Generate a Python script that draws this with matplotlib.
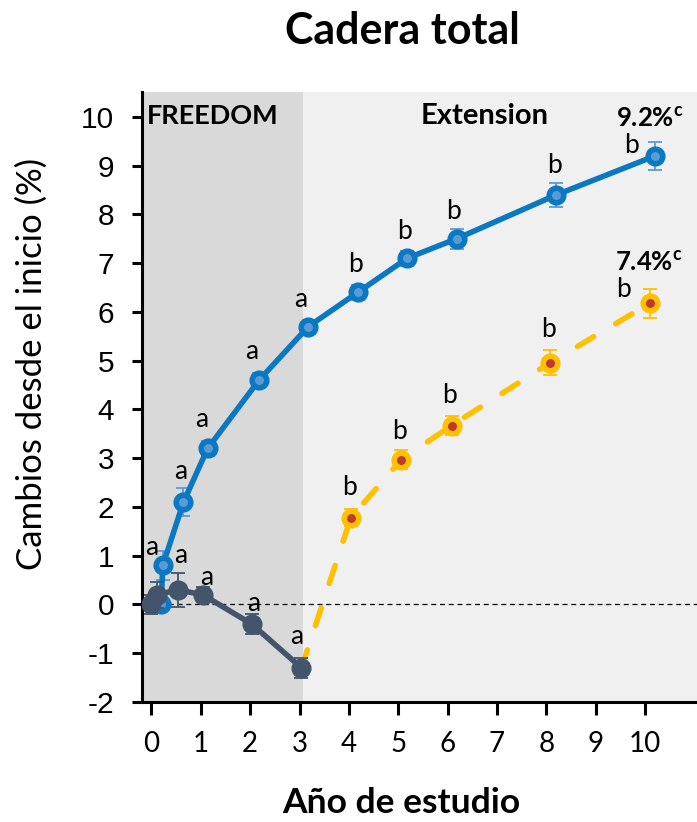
import matplotlib
matplotlib.use("Agg")
import matplotlib.pyplot as plt
from matplotlib.patches import Rectangle

plt.rcParams["axes.unicode_minus"] = False

# ---- data -------------------------------------------------------------
# FREEDOM period, placebo-to-denosumab arm (dark slate)
freedom_x = [0.0, 0.12, 0.53, 1.04, 2.03, 3.04]
freedom_y = [0.0, 0.2, 0.3, 0.2, -0.4, -1.3]
freedom_err = [0.2, 0.27, 0.35, 0.15, 0.2, 0.2]
freedom_letters = ["", "", "a", "a", "a", "a"]

# long-term denosumab arm (blue)
long_x = [0.2, 0.23, 0.65, 1.14, 2.18, 3.18, 4.18, 5.18, 6.18, 8.2, 10.2]
long_y = [0.0, 0.8, 2.1, 3.2, 4.6, 5.7, 6.4, 7.1, 7.5, 8.4, 9.2]
long_err = [0.1, 0.3, 0.28, 0.15, 0.15, 0.1, 0.15, 0.15, 0.2, 0.24, 0.29]
long_letters = ["", "a", "a", "a", "a", "a", "b", "b", "b", "b", "b"]

# crossover arm during the extension (yellow)
cross_x = [3.04, 4.04, 5.06, 6.08, 8.08, 10.1]
cross_y = [-1.3, 1.78, 2.97, 3.67, 4.96, 6.18]
cross_err = [0.0, 0.18, 0.2, 0.2, 0.25, 0.3]
cross_letters = ["", "b", "b", "b", "b", "b"]

x_ticks = list(range(0, 11))
y_ticks = list(range(-2, 11))
freedom_end = 3.07
long_total = "9.2%"
cross_total = "7.4%"

# ---- style ------------------------------------------------------------
BLUE = "#0A78C2"
BLUE_LIGHT = "#5B9BD5"
SLATE = "#44546A"
YELLOW = "#FFC000"
RED = "#C0392B"
BG_DARK = "#D9D9D9"
BG_LIGHT = "#F0F0F0"

CAL = ["Lato", "DejaVu Sans"]
ARIAL = ["Liberation Sans", "DejaVu Sans"]

fig = plt.figure(figsize=(6.97, 8.22), dpi=100)
ax = fig.add_axes([142 / 697, 1 - 702 / 822, 1 - 142 / 697, (702 - 92) / 822])

xmin, xmax = -0.19, 11.05
ymin, ymax = -2.0, 10.51
ax.set_xlim(xmin, xmax)
ax.set_ylim(ymin, ymax)
ax.set_facecolor(BG_LIGHT)
ax.add_patch(Rectangle((xmin, ymin), freedom_end - xmin, ymax - ymin,
                       facecolor=BG_DARK, edgecolor="none", zorder=0))

ax.axhline(0, color="black", lw=0.9, ls=(0, (4, 3)), zorder=1)

# crossover arm (dashed, behind the others)
ax.errorbar(cross_x[1:], cross_y[1:], yerr=cross_err[1:], fmt="none",
            ecolor=YELLOW, elinewidth=1.3, capsize=5, capthick=1.3, zorder=2)
ax.plot(cross_x, cross_y, color=YELLOW, lw=4, dashes=(3.4, 4.6),
        dash_capstyle="round", zorder=2)
ax.plot(cross_x[1:], cross_y[1:], ls="none", marker="o", ms=10.5,
        mfc=RED, mec=YELLOW, mew=4, zorder=3)

# long-term arm
ax.errorbar(long_x, long_y, yerr=long_err, fmt="none", ecolor=BLUE_LIGHT,
            elinewidth=1.3, capsize=5, capthick=1.3, zorder=4)
ax.plot(long_x, long_y, color=BLUE, lw=4, solid_capstyle="round", zorder=4)
ax.plot(long_x, long_y, ls="none", marker="o", ms=10.5, mfc=BLUE_LIGHT,
        mec=BLUE, mew=4, zorder=5)

# FREEDOM period
ax.errorbar(freedom_x, freedom_y, yerr=freedom_err, fmt="none", ecolor=SLATE,
            elinewidth=1.3, capsize=5, capthick=1.3, zorder=6)
ax.plot(freedom_x, freedom_y, color=SLATE, lw=4, marker="o", ms=13.5,
        mfc=SLATE, mec=SLATE, zorder=7)

# significance letters (offsets in pixels: dx, dy)
def letters(xs, ys, labels, offsets):
    for x, y, s, (dx, dy) in zip(xs, ys, labels, offsets):
        if s:
            ax.annotate(s, (x, y), xytext=(dx * 0.72, dy * 0.72),
                        textcoords="offset points", ha="center", va="center",
                        fontsize=19, family=CAL, zorder=9)

letters(freedom_x, freedom_y, freedom_letters,
        [(0, 0), (0, 0), (3, 34), (4, 17), (2, 20), (-5, 31)])
letters(long_x, long_y, long_letters,
        [(0, 0), (-11, 18), (-3, 31), (-6, 29), (-7, 29), (-8, 27),
         (-2, 28), (-3, 27), (-3, 27), (-2, 29), (-24, 10)])
letters(cross_x, cross_y, cross_letters,
        [(0, 0), (-1, 30), (-2, 28), (-2, 30), (-2, 33), (-27, 14)])

# period labels and totals
ax.text(0.009, 0.961, "FREEDOM", transform=ax.transAxes, ha="left",
        va="center", fontsize=19.5, fontweight="bold", family=CAL, zorder=9)
ax.text(0.617, 0.961, "Extension", transform=ax.transAxes, ha="center",
        va="center", fontsize=21, fontweight="bold", family=CAL, zorder=9)
ax.annotate(long_total + "$^{\\mathregular{c}}$", (long_x[-1], long_y[-1]),
            xytext=(-4, 27), textcoords="offset points", ha="center",
            va="center", fontsize=18.5, fontweight="bold", family=CAL, zorder=9)
ax.annotate(cross_total + "$^{\\mathregular{c}}$", (cross_x[-1], cross_y[-1]),
            xytext=(-1, 29), textcoords="offset points", ha="center",
            va="center", fontsize=18.5, fontweight="bold", family=CAL, zorder=9)

# axes
for side in ("top", "right"):
    ax.spines[side].set_visible(False)
for side in ("left", "bottom"):
    ax.spines[side].set_linewidth(2.2)
ax.set_xticks(x_ticks)
ax.set_yticks(y_ticks)
ax.tick_params(axis="x", direction="out", length=9, width=2.2, pad=12,
               labelsize=20)
ax.tick_params(axis="y", direction="out", length=7, width=2.2, pad=13,
               labelsize=21.5)
for lab in ax.get_xticklabels():
    lab.set_family(CAL)
for lab in ax.get_yticklabels():
    lab.set_family(ARIAL)

ax.set_ylabel("Cambios desde el inicio (%)", fontsize=25, family=CAL)
ax.yaxis.set_label_coords(-0.17, 0.555)
fig.text(0.575, 1 - 803 / 822, "Año de estudio", ha="center", va="center",
         fontsize=25.5, fontweight="bold", family=CAL)
fig.text(0.578, 1 - 31 / 822, "Cadera total", ha="center", va="center",
         fontsize=31, fontweight="bold", family=CAL)

fig.savefig("out.png", dpi=100)
